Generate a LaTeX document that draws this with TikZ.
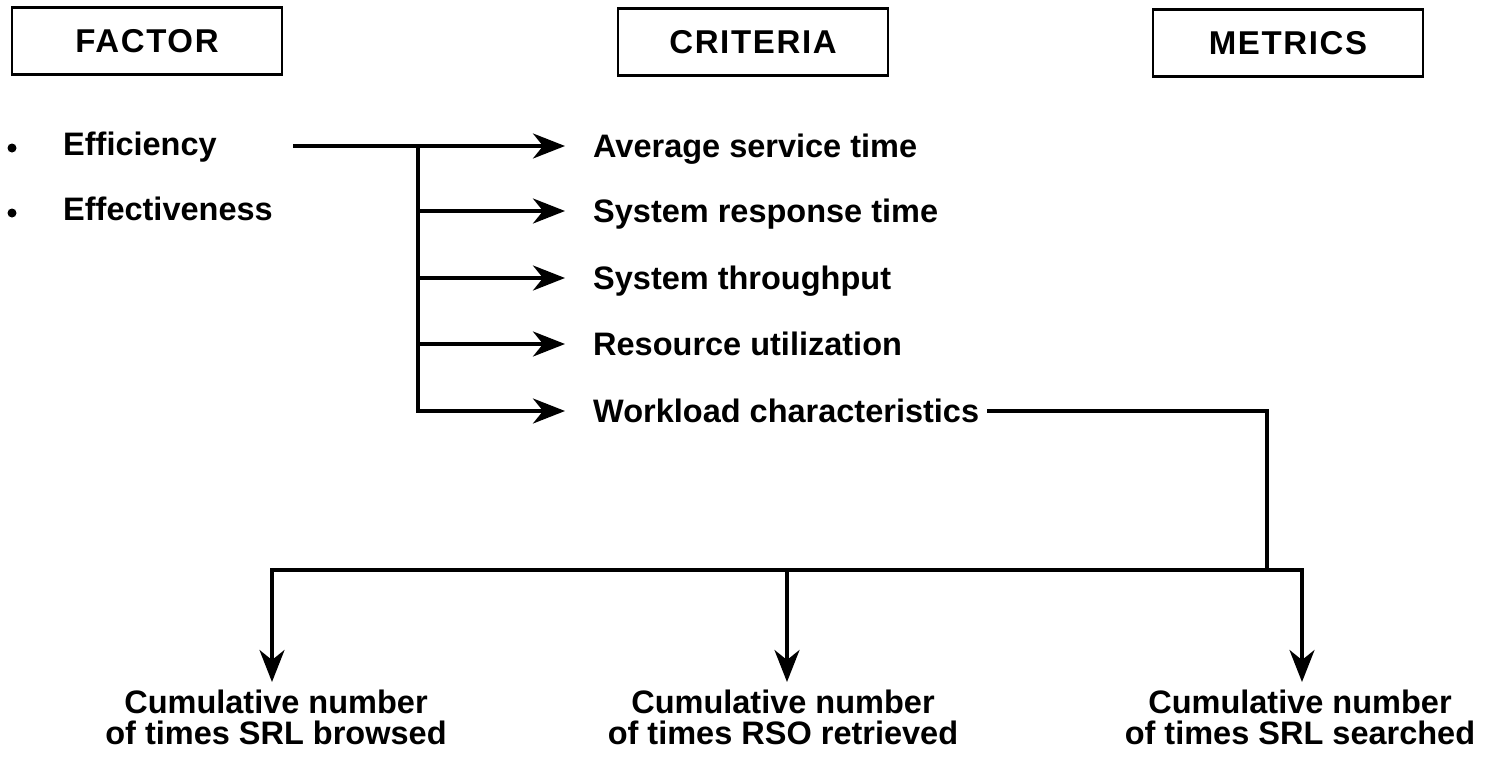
\documentclass[tikz,border=0pt]{standalone}
\usepackage{fontspec}
\setmainfont{Liberation Sans}
\usetikzlibrary{arrows.meta}
\newfontfamily\headfont[LetterSpace=5]{Liberation Sans}

\tikzset{
  hdr/.style={draw, line width=2.8pt, inner sep=0pt,
              minimum width=270pt, minimum height=67pt,
              font=\headfont\fontsize{33}{36}\selectfont\bfseries},
  item/.style={anchor=west, inner sep=0pt, text height=23pt, text depth=0pt,
               font=\fontsize{32.5}{34}\selectfont\bfseries},
  dot/.style={fill, circle, inner sep=0pt, minimum size=9pt},
  metric/.style={anchor=north, inner sep=0pt, align=center,
               font=\fontsize{32.5}{31}\selectfont\bfseries},
  wire/.style={line width=3.5pt},
  tip/.style={-{Stealth[length=32pt, width=25pt, inset=10pt]}},
  arr/.style={wire, tip, shorten >=28pt}
}

\begin{document}
\begin{tikzpicture}[x=1pt, y=-1pt]
\useasboundingbox (0,0) rectangle (1492,758);

% column headings
\node[hdr] (factor)   at (147,41) {FACTOR};
\node[hdr] (criteria) at (753,42) {CRITERIA};
\node[hdr] (metrics)  at (1288,43) {METRICS};

% factors
\node[dot] (b1) at (12,148) {};
\node[dot] (b2) at (12,213) {};
\node[item] (eff)  at (63,144) {Efficiency};
\node[item] (effv) at (63,209) {Effectiveness};

% criteria
\node[item] (avg) at (593,146) {Average service time};
\node[item] (srt) at (593,211) {System response time};
\node[item] (thr) at (593,278) {System throughput};
\node[item] (res) at (593,344) {Resource utilization};
\node[item] (wl)  at (593,411) {Workload characteristics};

% metrics
\node[metric] (browse)   at (276,690) {Cumulative number\\of times SRL browsed};
\node[metric] (retrieve) at (783,690) {Cumulative number\\of times RSO retrieved};
\node[metric] (search)   at (1300,690) {Cumulative number\\of times SRL searched};

% factor -> criteria fan-out
\coordinate (src)   at (293,146);
\coordinate (trunk) at (418,146);
\draw[arr] (src) -- (avg.west);
\draw[arr] (trunk) |- (wl.west);
\draw[arr] (trunk |- srt.west) -- (srt.west);
\draw[arr] (trunk |- thr.west) -- (thr.west);
\draw[arr] (trunk |- res.west) -- (res.west);

% criteria -> metrics bus
\coordinate (join) at (1267,570);
\coordinate (busL) at (272,570);
\coordinate (busM) at (787,570);
\coordinate (busR) at (1302,570);
\draw[wire, shorten <=8pt] (wl.east) -| (join);
\draw[wire, {Stealth[length=32pt, width=25pt, inset=10pt]}-{Stealth[length=32pt, width=25pt, inset=10pt]},
      shorten <=8pt, shorten >=8pt]
  (browse.north -| busL) -- (busL) -- (busR) -- (search.north -| busR);
\draw[wire, tip, shorten >=8pt] (busM) -- (retrieve.north -| busM);
\end{tikzpicture}
\end{document}
